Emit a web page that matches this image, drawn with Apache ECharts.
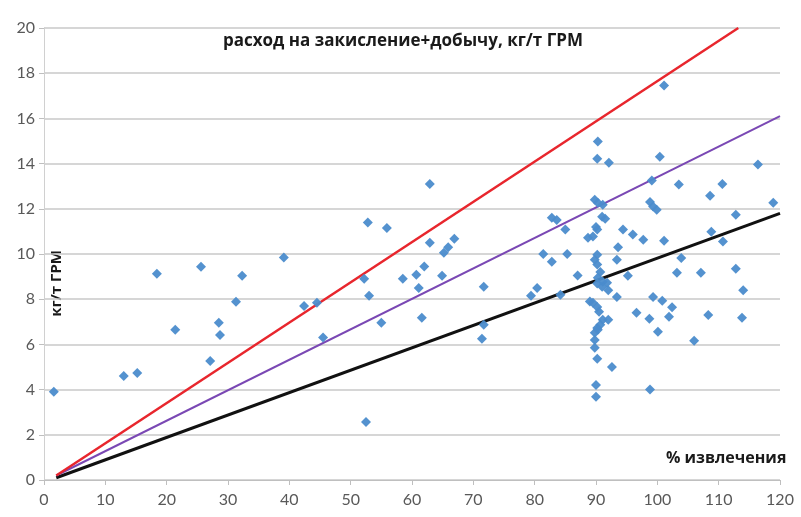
<!DOCTYPE html>
<html>
<head>
<meta charset="utf-8">
<title>расход на закисление+добычу</title>
<script src="https://cdn.jsdelivr.net/npm/echarts@6/dist/echarts.min.js"></script>
<style>
  html, body { margin: 0; padding: 0; background: #fff; }
  #chart { width: 801px; height: 517px; }
</style>
</head>
<body>
<div id="chart"></div>
<script>
// точки: [% извлечения, кг/т ГРМ]
var points = [
  [1.6, 3.9], [13.0, 4.6], [15.2, 4.74], [18.4, 9.13], [21.4, 6.65], [25.6, 9.44],
  [27.1, 5.27], [28.5, 6.96], [28.7, 6.42], [31.3, 7.89], [32.3, 9.04], [39.1, 9.84],
  [42.4, 7.7], [44.5, 7.84], [45.5, 6.3], [52.2, 8.9], [52.5, 2.57], [52.8, 11.39],
  [53.0, 8.15], [55.0, 6.96], [55.9, 11.15], [58.5, 8.9], [60.7, 9.08], [61.1, 8.5],
  [61.6, 7.18], [62.0, 9.45], [62.9, 13.1], [62.9, 10.5], [64.9, 9.04], [65.2, 10.06],
  [65.9, 10.3], [66.9, 10.68], [71.4, 6.25], [71.7, 6.87], [71.7, 8.55],
  [79.4, 8.15], [80.4, 8.5], [81.4, 10.0], [82.8, 11.6], [83.6, 11.5], [82.8, 9.66],
  [84.2, 8.2], [85.0, 11.08], [85.3, 10.0], [87.0, 9.05],
  [88.7, 10.72], [89.5, 10.77], [89.8, 12.4], [90.3, 12.27], [91.1, 12.18],
  [91.0, 11.65], [91.5, 11.56], [90.0, 11.2], [90.2, 11.08], [90.3, 14.98],
  [90.2, 14.22], [92.1, 14.04], [90.2, 9.97], [89.8, 9.75], [90.2, 9.53],
  [90.7, 9.2], [90.3, 8.95], [91.1, 8.77], [91.8, 8.73], [91.0, 8.55], [92.0, 8.4],
  [90.2, 8.7], [89.0, 7.9], [89.5, 7.84], [90.2, 7.66], [90.5, 7.44],
  [91.1, 7.09], [92.0, 7.09], [90.7, 6.87], [90.2, 6.73], [89.8, 6.51], [90.3, 6.65],
  [89.8, 6.2], [89.8, 5.85], [90.2, 5.36], [92.6, 5.0], [90.0, 4.2], [90.0, 3.68],
  [93.6, 10.3], [93.4, 9.75], [93.4, 8.1], [94.4, 11.08], [95.2, 9.04], [96.0, 10.86],
  [96.6, 7.4], [97.7, 10.63], [98.7, 7.13], [98.8, 4.0], [98.8, 12.3], [99.3, 12.1],
  [99.9, 11.96], [99.1, 13.25], [99.3, 8.1], [100.4, 14.3], [100.1, 6.56],
  [100.8, 7.93], [101.1, 17.46], [101.1, 10.59], [101.9, 7.22], [102.4, 7.64],
  [103.2, 9.17], [103.5, 13.07], [103.9, 9.82], [106.0, 6.16], [107.1, 9.17],
  [108.3, 7.3], [108.6, 12.58], [108.8, 10.99], [110.6, 13.1], [110.7, 10.55],
  [112.8, 11.74], [112.8, 9.35], [113.8, 7.18], [114.0, 8.4], [116.4, 13.96],
  [118.9, 12.27]
];

// линии
var lineRed = [[2, 0.2], [113.2, 20]];
var linePurple = [[2, 0.2], [120, 16.1]];
var lineBlack = [[2, 0.1], [120, 11.8]];

var xTicks = { min: 0, max: 120, interval: 10 };
var yTicks = { min: 0, max: 20, interval: 2 };

var chart = echarts.init(document.getElementById('chart'), null, { renderer: 'canvas' });

var labelFont = 'Lato, "Liberation Sans", sans-serif';
var nameFont = '"Open Sans", "Noto Sans", sans-serif';

var option = {
  animation: false,
  backgroundColor: '#fff',
  grid: { left: 44, right: 21, top: 28, bottom: 37 },
  title: {
    text: 'расход на закисление+добычу, кг/т ГРМ',
    left: 218,
    top: 28,
    textStyle: { fontFamily: nameFont, fontWeight: 'bold', fontSize: 17, color: '#1a1a1a' }
  },
  graphic: [
    {
      type: 'text',
      left: 49,
      top: 250,
      rotation: Math.PI / 2,
      style: { text: 'кг/т ГРМ', fontFamily: nameFont, fontWeight: 'bold', fontSize: 15, fill: '#1a1a1a' }
    },
    {
      type: 'text',
      left: 666,
      top: 450,
      style: { text: '% извлечения', fontFamily: nameFont, fontWeight: 'bold', fontSize: 16, fill: '#1a1a1a' }
    }
  ],
  xAxis: {
    type: 'value',
    min: xTicks.min,
    max: xTicks.max,
    interval: xTicks.interval,
    axisLine: { show: true, lineStyle: { color: '#bfbfbf', width: 1 } },
    axisTick: { show: true, length: 5, lineStyle: { color: '#bfbfbf' } },
    splitLine: { show: false },
    axisLabel: { color: '#595959', fontSize: 16, fontFamily: labelFont, margin: 12 }
  },
  yAxis: {
    type: 'value',
    min: yTicks.min,
    max: yTicks.max,
    interval: yTicks.interval,
    axisLine: { show: true, lineStyle: { color: '#d0d0d0', width: 1 } },
    axisTick: { show: true, length: 5, lineStyle: { color: '#bfbfbf' } },
    splitLine: { show: true, lineStyle: { color: '#c8c8c8', width: 1.5 } },
    axisLabel: { color: '#595959', fontSize: 16, fontFamily: labelFont, margin: 9 }
  },
  series: [
    {
      type: 'line',
      data: lineBlack,
      symbol: 'none',
      lineStyle: { color: '#111', width: 3 },
      z: 3
    },
    {
      type: 'line',
      data: linePurple,
      symbol: 'none',
      lineStyle: { color: '#7a48b4', width: 2 },
      z: 3
    },
    {
      type: 'line',
      data: lineRed,
      symbol: 'none',
      lineStyle: { color: '#e8262d', width: 2.5 },
      z: 3
    },
    {
      type: 'scatter',
      data: points,
      symbol: 'diamond',
      symbolSize: 10,
      itemStyle: { color: '#4b8ccc', opacity: 0.95 },
      z: 4
    }
  ]
};

chart.setOption(option);
</script>
</body>
</html>
